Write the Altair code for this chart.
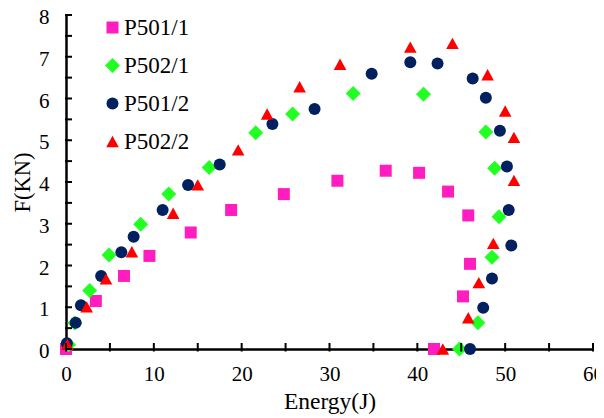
import altair as alt
import pandas as pd

series = ["P501/1", "P502/1", "P501/2", "P502/2"]
colors = ["#FF1DC0", "#22FF22", "#002060", "#FF0000"]
shapes = [
    "M-1,-1H1V1H-1Z",
    "M-1.25,0L0,-1.25L1.25,0L0,1.25Z",
    "circle",
    "M0,-0.95L1.05,0.95L-1.05,0.95Z",
]

p501_1_x = [0, 3.4, 6.6, 9.5, 14.2, 18.8, 24.8, 30.9, 36.4, 40.2, 43.5, 45.8, 46.0, 45.2, 41.9]
p501_1_y = [0, 1.15, 1.75, 2.23, 2.79, 3.33, 3.71, 4.03, 4.27, 4.22, 3.77, 3.20, 2.04, 1.26, 0]

p502_1_x = [0.3, 1.0, 2.7, 4.9, 8.5, 11.7, 16.3, 21.6, 25.8, 32.7, 40.7, 47.8, 48.8, 49.3, 48.5, 46.9, 44.8]
p502_1_y = [0.1, 0.62, 1.40, 2.25, 2.99, 3.71, 4.35, 5.18, 5.63, 6.12, 6.10, 5.20, 4.33, 3.17, 2.20, 0.63, 0]

p501_2_x = [0.1, 1.1, 1.7, 4.0, 6.3, 7.7, 11.0, 13.9, 17.5, 23.5, 28.3, 34.8, 39.2, 42.3, 46.3, 47.8,
            49.4, 50.2, 50.4, 50.7, 48.5, 47.5, 46.0]
p501_2_y = [0.14, 0.63, 1.05, 1.75, 2.32, 2.69, 3.33, 3.93, 4.42, 5.39, 5.75, 6.59, 6.87, 6.84, 6.48, 6.02,
            5.23, 4.37, 3.33, 2.48, 1.69, 0.99, 0]

p502_2_x = [0.15, 2.35, 4.55, 7.5, 12.2, 15.0, 19.6, 22.9, 26.6, 31.2, 39.2, 44.0, 48.0, 50.0, 51.0, 51.0,
            48.65, 47.0, 45.8, 42.9]
p502_2_y = [0.11, 1.01, 1.68, 2.33, 3.25, 3.93, 4.77, 5.63, 6.28, 6.82, 7.23, 7.32, 6.57, 5.70, 5.07, 4.04,
            2.53, 1.59, 0.75, 0]

x_label_values = [0, 10, 20, 30, 40, 50, 60]
y_label_values = [0, 1, 2, 3, 4, 5, 6, 7, 8]
x_tick_values = [0, 5, 10, 15, 20, 25, 30, 35, 40, 45, 50, 55, 60]
y_tick_values = [0, 0.5, 1, 1.5, 2, 2.5, 3, 3.5, 4, 4.5, 5, 5.5, 6, 6.5, 7, 7.5, 8]

rows = []
for name, xs, ys in [("P501/1", p501_1_x, p501_1_y), ("P502/1", p502_1_x, p502_1_y),
                     ("P501/2", p501_2_x, p501_2_y), ("P502/2", p502_2_x, p502_2_y)]:
    for xv, yv in zip(xs, ys):
        rows.append({"series": name, "energy": xv, "force": yv})
df = pd.DataFrame(rows)

FONT = "Liberation Serif"
W, H = 527, 334

xscale = alt.Scale(domain=[0, 60], nice=False, zero=False)
yscale = alt.Scale(domain=[0, 8], nice=False, zero=False)
xaxis = alt.Axis(values=x_label_values, title="Energy(J)", labelPadding=14, titlePadding=5,
                 labelFlush=False, titleFontSize=23.5)
yaxis = alt.Axis(values=y_label_values, title="F(KN)", labelPadding=17, titlePadding=4,
                 labelFlush=False, labelOffset=2.5, titleFontSize=22.5)

legend = alt.Legend(
    title=None, orient="none", legendX=35, legendY=1,
    labelFont=FONT, labelFontSize=23, labelColor="black", labelOffset=0,
    symbolSize=144, rowPadding=14, symbolStrokeWidth=0,
)

points = alt.Chart(df).mark_point(filled=True, size=144, opacity=1, strokeWidth=0).encode(
    x=alt.X("energy:Q", scale=xscale, axis=xaxis),
    y=alt.Y("force:Q", scale=yscale, axis=yaxis),
    color=alt.Color("series:N", scale=alt.Scale(domain=series, range=colors), legend=legend),
    shape=alt.Shape("series:N", scale=alt.Scale(domain=series, range=shapes), legend=legend),
)

xticks = alt.Chart(pd.DataFrame({"energy": x_tick_values})).mark_rule(color="black", strokeWidth=2).encode(
    x=alt.X("energy:Q", scale=xscale, axis=xaxis),
    y=alt.value(H - 6),
    y2=alt.value(H + 2.5),
)
yticks = alt.Chart(pd.DataFrame({"force": y_tick_values})).mark_rule(color="black", strokeWidth=2).encode(
    y=alt.Y("force:Q", scale=yscale, axis=yaxis),
    x=alt.value(-1),
    x2=alt.value(6),
)

chart = alt.layer(points, xticks, yticks).properties(
    width=W, height=H,
    autosize=alt.AutoSizeParams(type="none"),
    padding={"left": 58, "top": 7, "right": 3, "bottom": 66},
).configure_view(stroke=None).configure_axis(
    grid=False, ticks=False, tickSize=0, domainColor="black", domainWidth=2.5,
    labelFont=FONT, labelFontSize=21, labelColor="black",
    titleFont=FONT, titleFontSize=23, titleFontWeight="normal", titleColor="black",
)

chart.save("out.html", embed_options={"renderer": "svg", "actions": False})
